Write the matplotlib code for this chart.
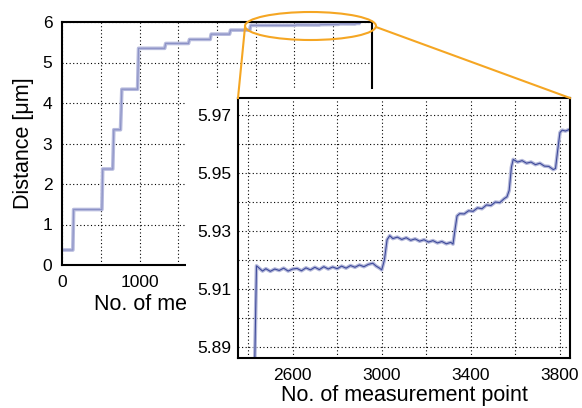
import matplotlib
matplotlib.use("Agg")
import matplotlib.pyplot as plt
from matplotlib.patches import Ellipse, Rectangle
from matplotlib.lines import Line2D
from matplotlib.transforms import Bbox

plt.rcParams['font.family'] = ['Liberation Sans', 'DejaVu Sans']

# coarse staircase (whole run)
step_x = [0, 140, 150, 515, 525, 655, 668, 755, 772, 975, 988,
          1325, 1338, 1632, 1645, 1912, 1925, 2162, 2175, 2424]
step_y = [0.37, 0.37, 1.37, 1.37, 2.37, 2.37, 3.34, 3.34, 4.34, 4.34, 5.35,
          5.35, 5.47, 5.47, 5.57, 5.57, 5.70, 5.70, 5.80, 5.80]

# fine detail after point ~2430 (shown in the inset)
fine_x = [2430, 2438, 2450, 2465, 2480, 2500, 2520, 2540, 2560, 2580,
          2600, 2620, 2640, 2660, 2680, 2700, 2720, 2740, 2760, 2780,
          2800, 2820, 2840, 2860, 2880, 2900, 2920, 2940, 2960, 2975,
          2990, 3000, 3012, 3024, 3036, 3050, 3070, 3090, 3110, 3130,
          3150, 3170, 3190, 3210, 3230, 3250, 3270, 3290, 3310, 3320,
          3328, 3338, 3350, 3370, 3390, 3410, 3430, 3450, 3470, 3490,
          3510, 3530, 3550, 3562, 3572, 3582, 3590, 3610, 3630, 3650,
          3670, 3690, 3710, 3730, 3750, 3770, 3780, 3790, 3800, 3810,
          3825, 3840, 3850]
fine_y = [5.884, 5.9180, 5.9172, 5.9162, 5.9170, 5.9161, 5.9169, 5.9164, 5.9172, 5.9162,
          5.9169, 5.9171, 5.9163, 5.9173, 5.9166, 5.9175, 5.9167, 5.9177, 5.9169, 5.9176,
          5.9170, 5.9179, 5.9172, 5.9181, 5.9175, 5.9183, 5.9177, 5.9185, 5.9189, 5.9179,
          5.9172, 5.9166, 5.9200, 5.9270, 5.9284, 5.9274, 5.9279, 5.9271, 5.9277, 5.9268,
          5.9273, 5.9265, 5.9270, 5.9262, 5.9267, 5.9259, 5.9264, 5.9256, 5.9261, 5.9255,
          5.9300, 5.9352, 5.9360, 5.9359, 5.9370, 5.9368, 5.9380, 5.9377, 5.9390, 5.9388,
          5.9400, 5.9398, 5.9412, 5.9418, 5.9440, 5.9520, 5.9547, 5.9538, 5.9543, 5.9534,
          5.9538, 5.9529, 5.9534, 5.9524, 5.9523, 5.9512, 5.9516, 5.9580, 5.9640, 5.9648,
          5.9645, 5.9650, 5.9651]

all_x = step_x + fine_x
all_y = step_y + fine_y

main_xticks = [0, 500, 1000, 1500, 2000, 2500, 3000, 3500, 4000]
main_xlabels = ['0', '', '1000', '', '', '', '', '', '']
main_yticks = [0, 1, 2, 3, 4, 5, 6]
ins_xgrid = [2400, 2600, 2800, 3000, 3200, 3400, 3600, 3800]
ins_xticks = [2600, 3000, 3400, 3800]
ins_ygrid = [5.89, 5.90, 5.91, 5.92, 5.93, 5.94, 5.95, 5.96, 5.97]
ins_yticks = [5.89, 5.91, 5.93, 5.95, 5.97]

orange = '#f5a623'
grid_kw = dict(color='black', linestyle=(0, (1, 2.2)), linewidth=0.8)

fig = plt.figure(figsize=(5.82, 4.08), dpi=100)
W, H = 582.0, 408.0

def px(x0, y0, x1, y1):
    return [x0 / W, 1 - y1 / H, (x1 - x0) / W, (y1 - y0) / H]

ax = fig.add_axes(px(62, 22, 372, 265), zorder=0)
ax.plot(all_x, all_y, color='#b6badd', lw=2.6, solid_capstyle='butt')
ax.plot(all_x, all_y, color='#8c92c6', lw=0.8)
ax.set_xlim(0, 4000)
ax.set_ylim(0, 6)
ax.set_xticks(main_xticks)
ax.set_xticklabels(main_xlabels)
ax.set_yticks(main_yticks)
ax.grid(True, **grid_kw)
ax.tick_params(length=0, labelsize=12.5)
ax.tick_params(axis='y', pad=7)
ax.tick_params(axis='x', pad=7)
ax.set_xlabel('No. of measurement point', fontsize=15.5, labelpad=3)
ax.set_ylabel('Distance [μm]', fontsize=15.5, labelpad=6)
# the inset hides the right part of this label, as in the original
ax.xaxis.label.set_clip_box(Bbox.from_extents(0, 0, 186, H))
ax.xaxis.label.set_clip_on(True)
for s in ax.spines.values():
    s.set_linewidth(1.5)

# white backing that hides the lower right part of the big plot
fig.add_artist(Rectangle((186 / W, 0), 1, 1 - 89 / H, transform=fig.transFigure,
                         facecolor='white', edgecolor='none', zorder=1))

ins = fig.add_axes(px(238, 98, 570, 358), zorder=2)
ins.plot(all_x, all_y, color='#b4b8da', lw=2.6, solid_capstyle='butt')
ins.plot(all_x, all_y, color='#3f4b9b', lw=0.8)
ins.set_xlim(2355, 3845)
ins.set_ylim(5.8862, 5.9759)
ins.set_xticks(ins_xgrid)
ins.set_xticklabels([str(v) if v in ins_xticks else '' for v in ins_xgrid])
ins.set_yticks(ins_ygrid)
ins.set_yticklabels(['%.2f' % v if round(v, 2) in ins_yticks else '' for v in ins_ygrid])
ins.grid(True, **grid_kw)
ins.tick_params(length=0, labelsize=12.5)
ins.tick_params(axis='y', pad=5)
ins.tick_params(axis='x', pad=7)
ins.set_xlabel('No. of measurement point', fontsize=15.5, labelpad=2)
for s in ins.spines.values():
    s.set_linewidth(1.5)

# zoom marker: ellipse on the big plot and lines to the inset corners
fig.add_artist(Ellipse((310.5 / W, 1 - 26 / H), 131 / W, 28 / H, transform=fig.transFigure,
                       facecolor='none', edgecolor=orange, lw=1.5, zorder=3))
fig.add_artist(Line2D([245 / W, 238 / W], [1 - 27 / H, 1 - 98 / H], transform=fig.transFigure,
                      color=orange, lw=1.5, zorder=3))
fig.add_artist(Line2D([376 / W, 570 / W], [1 - 27 / H, 1 - 98 / H], transform=fig.transFigure,
                      color=orange, lw=1.5, zorder=3))

fig.savefig('out.png', dpi=100)
